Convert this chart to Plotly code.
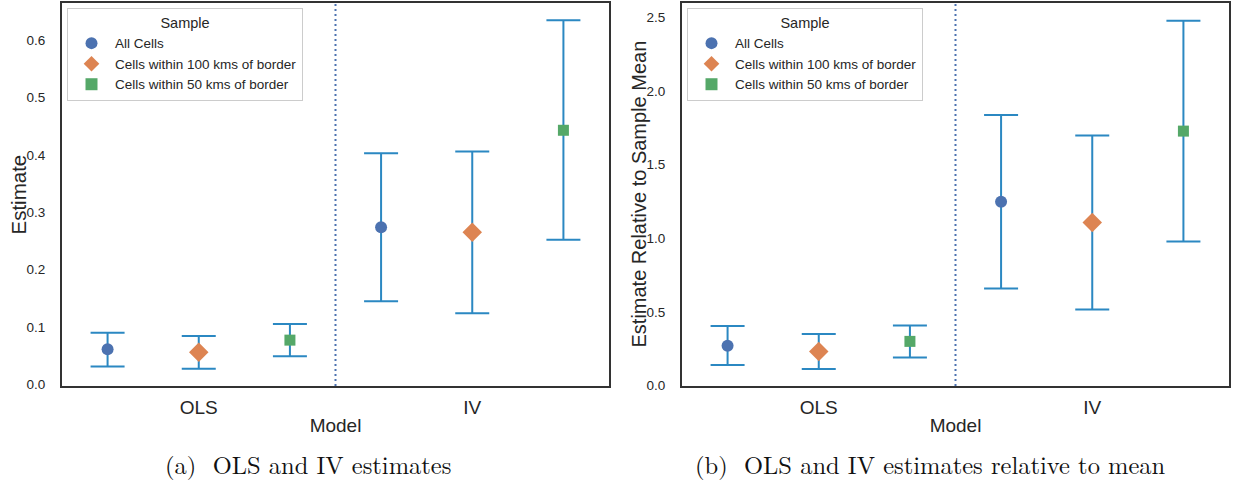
import plotly.graph_objects as go

# ---- data ----
models = ["OLS", "IV"]
samples = ["All Cells", "Cells within 100 kms of border", "Cells within 50 kms of border"]

# panel (a): estimates
est_a = {
    "All Cells": [0.061, 0.274],
    "Cells within 100 kms of border": [0.056, 0.265],
    "Cells within 50 kms of border": [0.077, 0.443],
}
lo_a = {
    "All Cells": [0.031, 0.145],
    "Cells within 100 kms of border": [0.027, 0.124],
    "Cells within 50 kms of border": [0.049, 0.252],
}
hi_a = {
    "All Cells": [0.090, 0.403],
    "Cells within 100 kms of border": [0.084, 0.406],
    "Cells within 50 kms of border": [0.105, 0.635],
}

# panel (b): estimates relative to mean
est_b = {
    "All Cells": [0.271, 1.248],
    "Cells within 100 kms of border": [0.232, 1.108],
    "Cells within 50 kms of border": [0.300, 1.728],
}
lo_b = {
    "All Cells": [0.140, 0.659],
    "Cells within 100 kms of border": [0.113, 0.517],
    "Cells within 50 kms of border": [0.190, 0.979],
}
hi_b = {
    "All Cells": [0.404, 1.837],
    "Cells within 100 kms of border": [0.350, 1.699],
    "Cells within 50 kms of border": [0.408, 2.477],
}

yticks_a = [0.0, 0.1, 0.2, 0.3, 0.4, 0.5, 0.6]
yticks_b = [0.0, 0.5, 1.0, 1.5, 2.0, 2.5]

# ---- styles ----
colors = {"All Cells": "#4c72b0", "Cells within 100 kms of border": "#dd8452",
          "Cells within 50 kms of border": "#55a868"}
symbols = {"All Cells": "circle", "Cells within 100 kms of border": "diamond",
           "Cells within 50 kms of border": "square"}
sizes = {"All Cells": 12, "Cells within 100 kms of border": 15,
         "Cells within 50 kms of border": 11}
offsets = {"All Cells": -1/3, "Cells within 100 kms of border": 0.0,
           "Cells within 50 kms of border": 1/3}
err_color = "#2b88c2"
FONT = "Liberation Sans, Arial, sans-serif"
TXT = "#262626"

fig = go.Figure()

def add_panel(est, lo, hi, xaxis, yaxis, legend):
    for s in samples:
        xs = [i + offsets[s] for i in range(len(models))]
        ys = est[s]
        fig.add_trace(go.Scatter(
            x=xs, y=ys, mode="markers", name=s,
            xaxis=xaxis, yaxis=yaxis, legend=legend,
            marker=dict(color=colors[s], symbol=symbols[s], size=sizes[s],
                        line=dict(width=0)),
            error_y=dict(type="data", symmetric=False,
                         array=[h - y for h, y in zip(hi[s], ys)],
                         arrayminus=[y - l for l, y in zip(lo[s], ys)],
                         color=err_color, thickness=2, width=17),
        ))

add_panel(est_a, lo_a, hi_a, "x", "y", "legend")
add_panel(est_b, lo_b, hi_b, "x2", "y2", "legend2")

W, H = 1233, 491
dom_y = [(H - 386) / H, (H - 3) / H]
dom_x1 = [62 / W, 609 / W]
dom_x2 = [682 / W, 1229 / W]

axis_common = dict(showline=True, mirror=True, linecolor="#333333", linewidth=2,
                   showgrid=False, zeroline=False, automargin=False)

xcommon = dict(axis_common, range=[-0.5, 1.5], tickvals=list(range(len(models))),
               ticktext=models, tickfont=dict(size=19, color=TXT, family=FONT),
               ticks="", ticklabelstandoff=3,
               title=dict(text="Model", font=dict(size=19, color=TXT, family=FONT), standoff=2))

def legend_cfg(x0):
    return dict(x=x0 + 5 / W, y=dom_y[1] - 5 / H, xanchor="left", yanchor="top",
                bgcolor="rgba(255,255,255,0.8)", bordercolor="#cccccc", borderwidth=1,
                font=dict(size=13.5, color=TXT, family=FONT),
                title=dict(text="Sample", side="top center",
                           font=dict(size=14.5, color=TXT, family=FONT)),
                tracegroupgap=0, itemsizing="constant", itemwidth=37)

fig.update_layout(
    width=W, height=H,
    margin=dict(l=0, r=0, t=0, b=0, pad=0, autoexpand=False),
    paper_bgcolor="white", plot_bgcolor="white",
    font=dict(family=FONT, color=TXT),
    xaxis=dict(xcommon, domain=dom_x1, anchor="y"),
    xaxis2=dict(xcommon, domain=dom_x2, anchor="y2"),
    yaxis=dict(axis_common, domain=dom_y, anchor="x", range=[-0.003, 0.665],
               tickvals=yticks_a, ticktext=[f"{v:.1f}" for v in yticks_a],
               tickfont=dict(size=13.5, color=TXT, family=FONT), ticks="",
               ticklabelstandoff=12),
    yaxis2=dict(axis_common, domain=dom_y, anchor="x2", range=[-0.003, 2.598],
                tickvals=yticks_b, ticktext=[f"{v:.1f}" for v in yticks_b],
                tickfont=dict(size=13.5, color=TXT, family=FONT), ticks="",
                ticklabelstandoff=12),
    legend=legend_cfg(dom_x1[0]),
    legend2=legend_cfg(dom_x2[0]),
    showlegend=True,
)

# y-axis titles placed as rotated annotations
ymid = (dom_y[0] + dom_y[1]) / 2
fig.add_annotation(text="Estimate", xref="paper", yref="paper", x=18 / W, y=ymid,
                   xanchor="center", yanchor="middle", textangle=-90, showarrow=False,
                   font=dict(size=20.5, color=TXT, family=FONT))
fig.add_annotation(text="Estimate Relative to Sample Mean", xref="paper", yref="paper",
                   x=638 / W, y=ymid, xanchor="center", yanchor="middle", textangle=-90,
                   showarrow=False, font=dict(size=20, color=TXT, family=FONT))

# dotted separators between model groups
for xr, yr in (("x", "y domain"), ("x2", "y2 domain")):
    fig.add_shape(type="line", xref=xr, yref=yr, x0=0.5, x1=0.5, y0=0, y1=1,
                  line=dict(color="#4c72b0", width=2, dash="2px,3px"))

# captions
SERIF = "Latin Modern Roman, CMU Serif, Liberation Serif, DejaVu Serif, serif"
fig.add_annotation(text="(a)  OLS and IV estimates", xref="paper", yref="paper",
                   x=308 / W, y=(H - 463) / H, xanchor="center", yanchor="middle",
                   showarrow=False, font=dict(size=24.5, color="#111111", family=SERIF))
fig.add_annotation(text="(b)  OLS and IV estimates relative to mean", xref="paper", yref="paper",
                   x=930 / W, y=(H - 463) / H, xanchor="center", yanchor="middle",
                   showarrow=False, font=dict(size=24.5, color="#111111", family=SERIF))

fig.write_html("out.html", config={"displayModeBar": False},
               post_script="document.body.style.margin='0';document.body.style.padding='0';")
